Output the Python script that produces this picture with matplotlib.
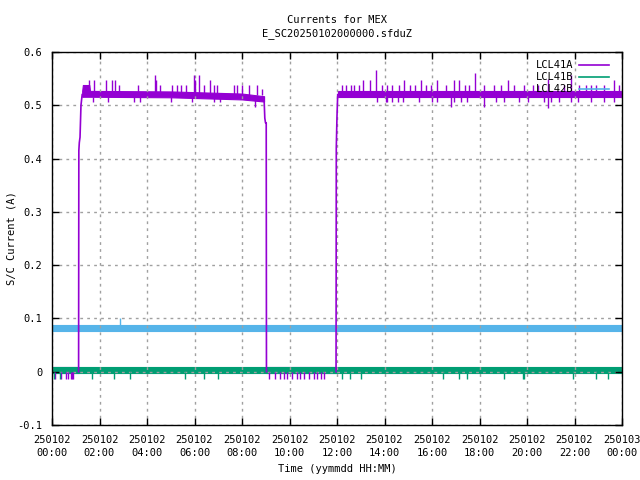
import matplotlib
matplotlib.use("Agg")
import matplotlib.pyplot as plt
import numpy as np

plt.rcParams['font.family'] = ['DejaVu Sans Mono']

# ---------------- data (hours since 250102 00:00, current in A) ----------------
tick_hours = [0, 2, 4, 6, 8, 10, 12, 14, 16, 18, 20, 22, 24]
tick_labels = ["250102\n00:00", "250102\n02:00", "250102\n04:00", "250102\n06:00",
               "250102\n08:00", "250102\n10:00", "250102\n12:00", "250102\n14:00",
               "250102\n16:00", "250102\n18:00", "250102\n20:00", "250102\n22:00",
               "250103\n00:00"]

# LCL41A : main band (lower / upper envelope) while switched on
a_band1_t = [1.27, 1.30, 1.57, 1.60, 5.0, 8.0, 8.93]
a_band1_lo = [0.516, 0.516, 0.516, 0.516, 0.515, 0.511, 0.507]
a_band1_hi = [0.527, 0.538, 0.538, 0.527, 0.526, 0.522, 0.517]
a_band2_t = [12.03, 24.0]
a_band2_lo = [0.516, 0.516]
a_band2_hi = [0.527, 0.527]
# LCL41A transitions
a_rise1_t = [1.12, 1.13, 1.15, 1.18, 1.22, 1.27]
a_rise1_v = [0.0, 0.415, 0.43, 0.44, 0.50, 0.52]
a_drop_t = [8.93, 8.96, 8.99, 9.02, 9.03]
a_drop_v = [0.512, 0.476, 0.467, 0.467, 0.0]
a_rise2_t = [11.96, 11.97, 12.00, 12.03]
a_rise2_v = [0.0, 0.42, 0.48, 0.52]
# LCL41A off level band
a_off_t = [0.0, 1.12, 9.03, 11.96]
a_off_lo = [-0.002, -0.002, -0.002, -0.002]
a_off_hi = [0.009, 0.009, 0.009, 0.009]
# LCL41A spikes
a_up_t = [1.57, 1.78, 2.27, 2.52, 2.66, 2.80, 3.62, 4.32, 4.38, 4.56, 5.05, 5.26, 5.44,
          5.64, 5.96, 6.03, 6.20, 6.38, 6.67, 6.81, 6.95, 7.65, 7.79, 8.00, 8.31, 8.64, 8.85,
          12.19, 12.36, 12.60, 12.71, 12.92, 13.11, 13.39, 13.63, 13.88, 14.12, 14.33, 14.61,
          14.82, 15.08, 15.29, 15.53, 15.74, 15.95, 16.23, 16.58, 16.93, 17.14, 17.38, 17.57,
          17.81, 18.20, 18.62, 18.90, 19.19, 19.46, 19.89, 20.24, 20.45, 20.87, 21.57, 21.86,
          22.21, 22.49, 22.70, 22.91, 23.26, 23.68, 23.89]
a_up_v = [0.548, 0.548, 0.548, 0.548, 0.548, 0.538, 0.538, 0.557, 0.548, 0.538, 0.538, 0.538, 0.538,
          0.538, 0.557, 0.548, 0.557, 0.538, 0.548, 0.538, 0.538, 0.538, 0.538, 0.538, 0.538, 0.538, 0.530,
          0.538, 0.538, 0.538, 0.538, 0.538, 0.548, 0.548, 0.567, 0.538, 0.538, 0.538, 0.538,
          0.548, 0.538, 0.538, 0.548, 0.538, 0.538, 0.548, 0.538, 0.548, 0.548, 0.538, 0.538,
          0.560, 0.538, 0.538, 0.538, 0.548, 0.538, 0.538, 0.538, 0.538, 0.550, 0.538, 0.557,
          0.538, 0.538, 0.538, 0.538, 0.538, 0.548, 0.538]
a_dn_t = [1.74, 2.35, 3.47, 3.71, 5.02, 5.89, 6.81, 7.09, 8.54,
          13.70, 14.05, 14.12, 14.33, 14.57, 14.76, 15.46, 16.02, 16.23, 16.79, 16.93, 17.22,
          17.46, 18.17, 18.69, 19.04, 19.68, 20.03, 20.73, 20.90, 21.01, 21.36, 21.86, 22.14,
          22.70, 23.26, 23.68]
a_dn_v = [0.507, 0.507, 0.507, 0.507, 0.507, 0.507, 0.507, 0.507, 0.497,
          0.507, 0.507, 0.507, 0.507, 0.507, 0.507, 0.507, 0.507, 0.507, 0.497, 0.507, 0.507,
          0.507, 0.497, 0.507, 0.507, 0.507, 0.507, 0.507, 0.495, 0.507, 0.507, 0.507, 0.507,
          0.507, 0.507, 0.507]
a_off_dn_t = [0.13, 0.37, 0.58, 0.69, 0.80, 0.84, 0.90, 9.13, 9.37, 9.62, 9.76, 9.90, 10.11,
              10.32, 10.46, 10.60, 10.81, 11.02, 11.16, 11.31, 11.45]
a_off_dn_v = [-0.013] * 21

# LCL41B
b_band_t = [0.0, 24.0]
b_band_lo = [-0.002, -0.002]
b_band_hi = [0.0095, 0.0095]
b_dn_t = [0.10, 0.34, 1.70, 2.63, 3.29, 5.61, 6.38, 7.00, 12.22, 12.54, 13.03, 16.47,
          17.14, 17.46, 19.04, 19.82, 19.87, 21.95, 22.92, 23.43]
b_dn_v = [-0.013] * 20

# LCL42B
c_band_t = [0.0, 24.0]
c_band_lo = [0.077, 0.077]
c_band_hi = [0.0875, 0.0875]
c_up_t = [2.88]
c_up_v = [0.100]

# ---------------- styling ----------------
col_a = "#9400D3"
col_b = "#009E73"
col_c = "#56B4E9"
FS = 7.5

fig = plt.figure(figsize=(6.4, 4.8), dpi=100)
ax = fig.add_axes([52/640, 1-425/480, 570/640, 373/480])

def band(t, lo, hi, col):
    ax.fill_between(t, lo, hi, color=col, linewidth=0.8, edgecolor=col)

def spikes(t, v, base, col):
    ax.vlines(t, [base]*len(t), v, colors=col, linewidth=1.0)

# LCL41A
band(a_off_t[:2], a_off_lo[:2], a_off_hi[:2], col_a)
band(a_off_t[2:], a_off_lo[2:], a_off_hi[2:], col_a)
band(a_band1_t, a_band1_lo, a_band1_hi, col_a)
band(a_band2_t, a_band2_lo, a_band2_hi, col_a)
ax.plot(a_rise1_t, a_rise1_v, color=col_a, lw=1.2)
ax.plot(a_drop_t, a_drop_v, color=col_a, lw=1.2)
ax.plot(a_rise2_t, a_rise2_v, color=col_a, lw=1.2)
spikes(a_up_t, a_up_v, 0.52, col_a)
spikes(a_dn_t, a_dn_v, 0.515, col_a)
spikes(a_off_dn_t, a_off_dn_v, 0.0, col_a)

# LCL41B
band(b_band_t, b_band_lo, b_band_hi, col_b)
spikes(b_dn_t, b_dn_v, 0.0, col_b)

# LCL42B
band(c_band_t, c_band_lo, c_band_hi, col_c)
spikes(c_up_t, c_up_v, 0.085, col_c)

ax.set_xlim(0, 24)
ax.set_ylim(-0.1, 0.6)
ax.set_xticks(tick_hours)
ax.set_xticklabels(tick_labels, fontsize=FS, linespacing=1.35)
ax.set_yticks(np.round(np.arange(-0.1, 0.61, 0.1), 1))
ax.set_yticklabels(["-0.1", "0", "0.1", "0.2", "0.3", "0.4", "0.5", "0.6"], fontsize=FS)
ax.tick_params(direction='in', length=5, width=1, top=True, right=True)
ax.tick_params(axis='x', pad=7)
ax.tick_params(axis='y', pad=7)
ax.grid(True, color="#a0a0a0", linestyle=(0, (2, 3)), linewidth=1)
for s in ax.spines.values():
    s.set_linewidth(1)

ax.set_xlabel("Time (yymmdd HH:MM)", fontsize=FS, labelpad=5)
fig.text(12/640, 1-238/480, "S/C Current (A)", rotation=90, ha='center', va='center', fontsize=FS)
fig.text(337/640, 1-20/480, "Currents for MEX", ha='center', va='center', fontsize=FS)
fig.text(337/640, 1-34/480, "E_SC20250102000000.sfduZ", ha='center', va='center', fontsize=FS)

from matplotlib.lines import Line2D
handles = [Line2D([], [], color=col_a, lw=1.2),
           Line2D([], [], color=col_b, lw=1.2),
           Line2D([], [], color=col_c, lw=1.2)]
ax.legend(handles, ["LCL41A", "LCL41B", "LCL42B"], loc='upper right', frameon=False,
          bbox_to_anchor=(0.991, 1.0),
          markerfirst=False, fontsize=FS, handlelength=2.8, labelspacing=0.2,
          borderaxespad=0.3, borderpad=0.5, handletextpad=0.6)

fig.savefig("out.png", dpi=100)
